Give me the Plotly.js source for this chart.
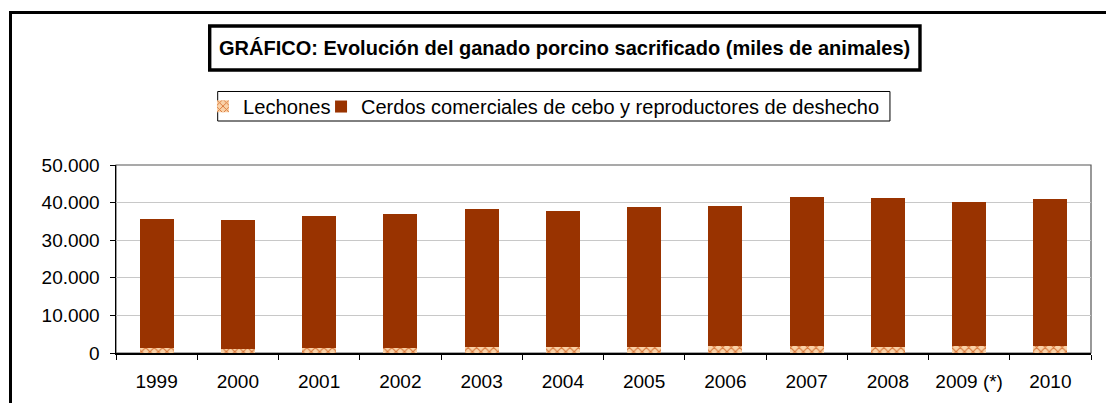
<!DOCTYPE html>
<html>
<head>
<meta charset="utf-8">
<script src="https://cdn.plot.ly/plotly-3.0.1.min.js"></script>
<style>
  html, body { margin: 0; padding: 0; background: #fff; }
  #wrap { position: relative; width: 1106px; height: 403px; overflow: hidden; }
  #frame { position: absolute; left: 9px; top: 11px; width: 1096px; height: 500px;
           border-left: 3px solid #000; border-top: 3px solid #000; pointer-events: none; }
  #chart { position: absolute; left: 0; top: 0; width: 1106px; height: 403px; }
</style>
</head>
<body>
<div id="wrap">
  <div id="chart"></div>
  <div id="frame"></div>
</div>
<script>
const years = ["1999", "2000", "2001", "2002", "2003", "2004", "2005", "2006", "2007", "2008", "2009 (*)", "2010"];
const lechones = [1330, 990, 1330, 1330, 1700, 1700, 1700, 1960, 1960, 1600, 1870, 1960];
const cerdos = [34290, 34360, 35090, 35670, 36590, 36060, 37120, 37130, 39530, 39620, 38280, 38990];
const yTicks = [0, 10000, 20000, 30000, 40000, 50000];

const font = "Liberation Sans, Arial, sans-serif";

const traces = [
  {
    type: "bar", name: "Lechones", x: years, y: lechones, legend: "legend",
    marker: { color: "#f6c99a", line: { width: 0 },
              pattern: { shape: "x", fgcolor: "#d9773a", bgcolor: "#f9d2a8", size: 6, solidity: 0.35 } }
  },
  {
    type: "bar", name: "Cerdos comerciales de cebo y reproductores de deshecho", x: years, y: cerdos,
    legend: "legend2",
    marker: { color: "#993300", line: { width: 0 } }
  }
];

const legendBase = {
  orientation: "h", xanchor: "left", y: 1.311, yanchor: "middle",
  borderwidth: 0, bgcolor: "rgba(0,0,0,0)", itemwidth: 30
};

const layout = {
  width: 1106, height: 403,
  margin: { l: 116, r: 15, t: 165, b: 50 },
  paper_bgcolor: "#fff", plot_bgcolor: "#fff",
  separators: ",.",
  barmode: "stack",
  bargap: 0.58,
  font: { family: font, size: 19, color: "#000" },
  showlegend: true,
  legend: Object.assign({}, legendBase, { x: 0.0892, font: { family: font, size: 20.2, color: "#000" } }),
  legend2: Object.assign({}, legendBase, { x: 0.2103, font: { family: font, size: 20, color: "#000" } }),
  xaxis: {
    type: "category", tickson: "boundaries", ticks: "outside", ticklen: 5, tickcolor: "#000",
    showline: true, linecolor: "#000", linewidth: 1.5, showgrid: false,
    tickfont: { family: font, size: 19, color: "#000" }, ticklabelstandoff: 11
  },
  yaxis: {
    range: [0, 50000], tickvals: yTicks, tickformat: ",d",
    ticks: "outside", ticklen: 5, tickcolor: "#000",
    showline: true, linecolor: "#000", linewidth: 1.5,
    showgrid: true, gridcolor: "#c8c8c8", gridwidth: 1.2, zeroline: false,
    tickfont: { family: font, size: 19, color: "#000" }, ticklabelstandoff: 6
  },
  shapes: [
    { type: "rect", xref: "paper", yref: "paper", x0: 0, x1: 1, y0: 0, y1: 1,
      line: { color: "#555", width: 1.2 }, layer: "below" },
    { type: "rect", xref: "paper", yref: "paper", x0: 0.1043, x1: 0.7938, y0: 1.234, y1: 1.391,
      line: { color: "#000", width: 1 }, fillcolor: "#fff", layer: "below" },
    { type: "rect", xref: "paper", yref: "paper", x0: 0.0961, x1: 0.8246, y0: 1.5053, y1: 1.7394,
      line: { color: "#000", width: 3.4 }, fillcolor: "#fff", layer: "below" }
  ],
  annotations: [
    { text: "<b>GRÁFICO: Evolución del ganado porcino sacrificado (miles de animales)</b>",
      xref: "paper", yref: "paper", x: 0.4603, y: 1.622, xanchor: "center", yanchor: "middle",
      showarrow: false, font: { family: font, size: 20, color: "#000" } }
  ]
};

Plotly.newPlot("chart", traces, layout, { displayModeBar: false, staticPlot: true });
</script>
</body>
</html>
